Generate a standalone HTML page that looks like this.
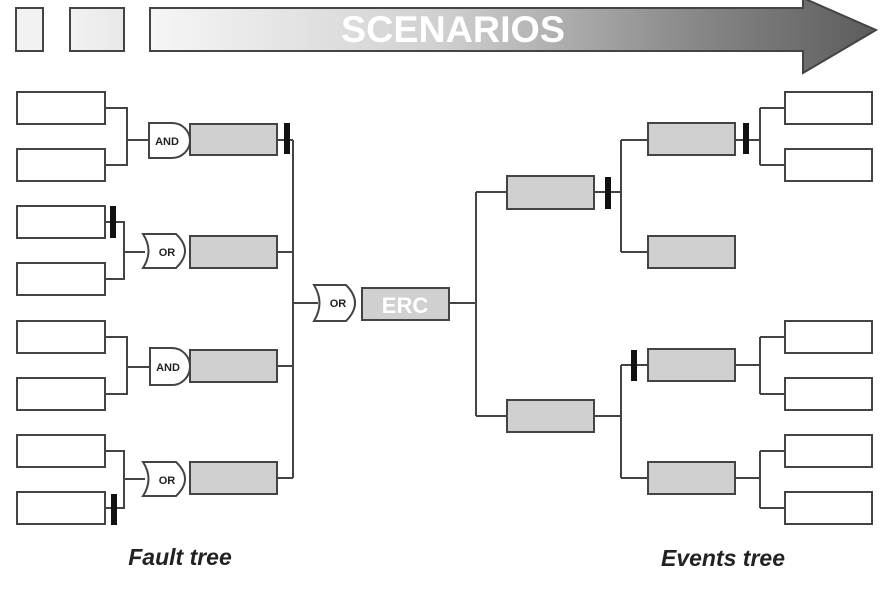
<!DOCTYPE html>
<html><head><meta charset="utf-8"><style>html,body{margin:0;padding:0;background:#fff}svg{display:block}</style></head>
<body>
<svg width="895" height="589" viewBox="0 0 895 589" xmlns="http://www.w3.org/2000/svg" font-family="Liberation Sans, sans-serif">
<defs>
<linearGradient id="g" x1="150" y1="0" x2="876" y2="0" gradientUnits="userSpaceOnUse">
<stop offset="0" stop-color="#f6f6f6"/><stop offset="0.4" stop-color="#d0d0d0"/><stop offset="0.75" stop-color="#888"/><stop offset="1" stop-color="#5c5c5c"/>
</linearGradient>
<linearGradient id="g2" x1="0" y1="0" x2="1" y2="0"><stop offset="0" stop-color="#f2f2f2"/><stop offset="1" stop-color="#e8e8e8"/></linearGradient>
</defs>
<g stroke="#444" stroke-width="2">
<rect x="16" y="8" width="27" height="43" fill="#f2f2f2"/>
<rect x="70" y="8" width="54" height="43" fill="url(#g2)"/>
<path d="M150,8 H803 V-2 L876,30 L803,73 V51 H150 Z" fill="url(#g)"/>
</g>
<text x="453" y="42" fill="#fff" font-size="37" font-weight="bold" text-anchor="middle" textLength="224" lengthAdjust="spacingAndGlyphs">SCENARIOS</text>

<g stroke="#444" stroke-width="2" fill="none">
<!-- left connectors -->
<path d="M105,108 H127 V165 H105 M127,140 H150"/>
<path d="M105,222 H124 V279 H105 M124,252 H145"/>
<path d="M105,337 H127 V394 H105 M127,367 H150"/>
<path d="M105,451 H124 V508 H105 M124,479 H145"/>
<path d="M277,140 H293 M277,252 H293 M277,366 H293 M277,478 H293 M293,140 V478 M293,303 H318"/>
<path d="M449,303 H476 M476,192 V416 M476,192 H506 M476,416 H506"/>
<path d="M594,192 H621 M621,140 V252 M621,140 H648 M621,252 H648"/>
<path d="M594,416 H621 M621,365 V478 M621,365 H648 M621,478 H648"/>
<path d="M735,140 H760 M760,108 V165 M760,108 H785 M760,165 H785"/>
<path d="M735,365 H760 M760,337 V394 M760,337 H785 M760,394 H785"/>
<path d="M735,478 H760 M760,451 V508 M760,451 H785 M760,508 H785"/>
</g>
<g stroke="#444" stroke-width="2" fill="#fff">
<rect x="17" y="92" width="88" height="32"/><rect x="17" y="149" width="88" height="32"/>
<rect x="17" y="206" width="88" height="32"/><rect x="17" y="263" width="88" height="32"/>
<rect x="17" y="321" width="88" height="32"/><rect x="17" y="378" width="88" height="32"/>
<rect x="17" y="435" width="88" height="32"/><rect x="17" y="492" width="88" height="32"/>
<rect x="785" y="92" width="87" height="32"/><rect x="785" y="149" width="87" height="32"/>
<rect x="785" y="321" width="87" height="32"/><rect x="785" y="378" width="87" height="32"/>
<rect x="785" y="435" width="87" height="32"/><rect x="785" y="492" width="87" height="32"/>
<path d="M149,123 H172 A18,17.5 0 0 1 172,158 H149 Z"/>
<path d="M150,348 H172 A18,18.5 0 0 1 172,385 H150 Z"/>
<path d="M143,234 H176 Q194,251 176,268 H143 Q154,251 143,234 Z"/>
<path d="M143,462 H176 Q194,479 176,496 H143 Q154,479 143,462 Z"/>
<path d="M314,285 H346 Q364,303 346,321 H314 Q325,303 314,285 Z"/>
</g>
<g stroke="#444" stroke-width="2" fill="#d0d0d0">
<rect x="190" y="124" width="87" height="31"/><rect x="190" y="236" width="87" height="32"/>
<rect x="190" y="350" width="87" height="32"/><rect x="190" y="462" width="87" height="32"/>
<rect x="362" y="288" width="87" height="32"/>
<rect x="507" y="176" width="87" height="33"/><rect x="507" y="400" width="87" height="32"/>
<rect x="648" y="123" width="87" height="32"/><rect x="648" y="236" width="87" height="32"/>
<rect x="648" y="349" width="87" height="32"/><rect x="648" y="462" width="87" height="32"/>
</g>
<g fill="#111">
<rect x="284" y="123" width="6" height="31"/>
<rect x="110" y="206" width="6" height="32"/>
<rect x="111" y="494" width="6" height="31"/>
<rect x="605" y="177" width="6" height="32"/>
<rect x="743" y="123" width="6" height="31"/>
<rect x="631" y="350" width="6" height="31"/>
</g>
<g font-weight="bold" fill="#222" font-size="11" text-anchor="middle">
<text x="167" y="145">AND</text>
<text x="168" y="371">AND</text>
<text x="167" y="256">OR</text>
<text x="167" y="484">OR</text>
<text x="338" y="307">OR</text>
</g>
<text x="405" y="313" fill="#fff" font-size="22" font-weight="bold" text-anchor="middle">ERC</text>
<g font-weight="bold" font-style="italic" font-size="23" fill="#222" text-anchor="middle">
<text x="180" y="565">Fault tree</text>
<text x="723" y="566">Events tree</text>
</g>
</svg>
</body></html>
